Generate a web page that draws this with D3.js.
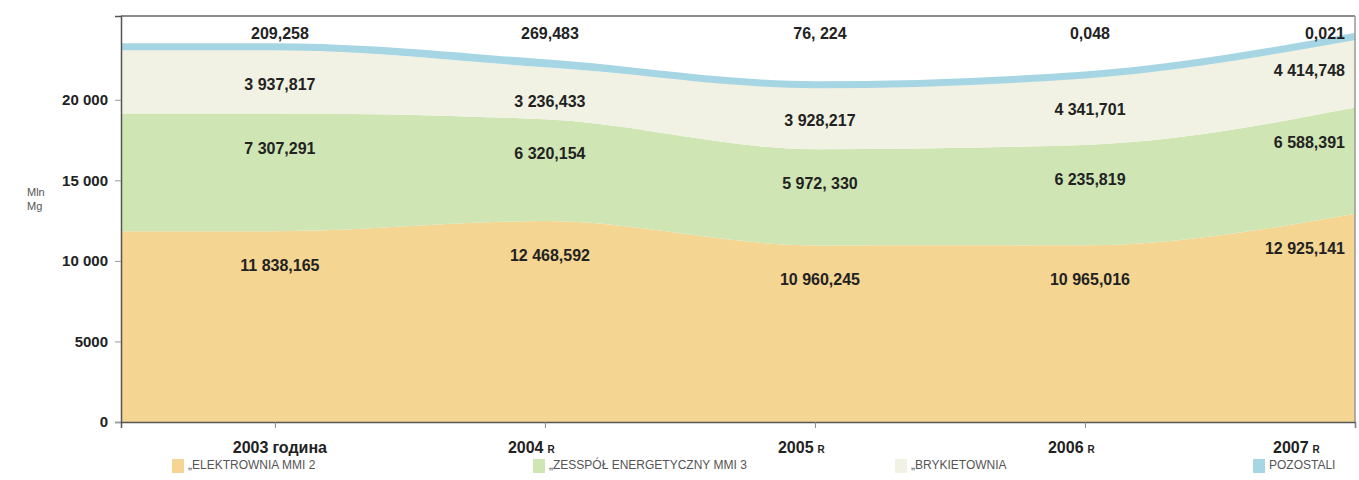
<!DOCTYPE html>
<html>
<head>
<meta charset="utf-8">
<script src="https://cdn.jsdelivr.net/npm/d3@7"></script>
<style>
  body { margin: 0; background: #fff; }
  text { font-family: "Liberation Sans", Arial, sans-serif; }
</style>
</head>
<body>
<div id="chart"></div>
<script>
// data (Mln Mg)
var years = ["2003", "2004", "2005", "2006", "2007"];
var yearSuffix = ["година", "R", "R", "R", "R"];
var elektrownia = [11838.165, 12468.592, 10960.245, 10965.016, 12925.141];
var zespol = [7307.291, 6320.154, 5972.330, 6235.819, 6588.391];
var brykietownia = [3937.817, 3236.433, 3928.217, 4341.701, 4414.748];
var pozostali = [209.258, 269.483, 76.224, 0.048, 0.021];
var labelsEl = ["11 838,165", "12 468,592", "10 960,245", "10 965,016", "12 925,141"];
var labelsZe = ["7 307,291", "6 320,154", "5 972, 330", "6 235,819", "6 588,391"];
var labelsBr = ["3 937,817", "3 236,433", "3 928,217", "4 341,701", "4 414,748"];
var labelsPo = ["209,258", "269,483", "76, 224", "0,048", "0,021"];
var seriesNames = ["„ELEKTROWNIA MMI 2", "„ZESSPÓŁ ENERGETYCZNY MMI 3", "„BRYKIETOWNIA", "POZOSTALI"];
var yTicks = [0, 5000, 10000, 15000, 20000];

var colors = ["#f5d592", "#cfe6b4", "#f1f2e3", "#a6d6e4"];

function drawChart() {
  var W = 1359, H = 480;
  var pLeft = 121, pRight = 1355, pTop = 16, pBottom = 422;

  var svg = d3.select("#chart").append("svg")
      .attr("width", W).attr("height", H);

  // x: category index, the plot starts a bit before the first year
  var x = d3.scaleLinear().domain([-0.57, years.length - 1]).range([pLeft, pRight]);
  var y = d3.scaleLinear().domain([0, 25200]).range([pBottom, pTop]);

  var rows = years.map(function(yr, i) {
    return {i: i, el: elektrownia[i], ze: zespol[i], br: brykietownia[i], po: pozostali[i]};
  });
  // flat lead-in to the left edge of the plot
  var drawRows = [Object.assign({}, rows[0], {i: x.domain()[0]})].concat(rows);

  var keys = ["el", "ze", "br", "po"];
  var stack = d3.stack().keys(keys);
  var layers = stack(drawRows);
  var labelLayers = stack(rows);

  var area = d3.area()
      .x(function(d) { return x(d.data.i); })
      .y0(function(d) { return y(d[0]); })
      .y1(function(d) { return y(d[1]); })
      .curve(d3.curveMonotoneX);

  svg.selectAll(".layer").data(layers).enter().append("path")
    .attr("class", "layer")
    .attr("d", area)
    .attr("fill", function(d, i) { return colors[i]; });

  // top edge of the "pozostali" band drawn as a thick line
  var topLine = d3.line()
      .x(function(d) { return x(d.data.i); })
      .y(function(d) { return y(d[1]); })
      .curve(d3.curveMonotoneX);
  svg.append("path")
    .datum(layers[3])
    .attr("d", topLine)
    .attr("fill", "none")
    .attr("stroke", colors[3])
    .attr("stroke-width", 7);

  // frame
  svg.append("line").attr("x1", pLeft).attr("x2", pRight).attr("y1", pTop).attr("y2", pTop)
    .attr("stroke", "#666").attr("stroke-width", 1.5);
  svg.append("line").attr("x1", pRight).attr("x2", pRight).attr("y1", pTop).attr("y2", pBottom)
    .attr("stroke", "#999").attr("stroke-width", 1.5);

  // y axis
  var yAxis = svg.append("g")
    .attr("transform", "translate(" + pLeft + ",0)")
    .call(d3.axisLeft(y).tickValues(yTicks).tickSize(6).tickPadding(7)
      .tickFormat(function(d) { return d >= 10000 ? d3.format(",")(d).replace(",", " ") : d; }));
  yAxis.select(".domain").attr("stroke", "#555").attr("stroke-width", 1.5);
  yAxis.selectAll(".tick line").attr("stroke", "#999");
  yAxis.selectAll("text").attr("font-size", 15).attr("font-weight", "bold")
    .attr("font-family", "'Liberation Sans Narrow', 'Liberation Sans', sans-serif")
    .attr("fill", "#222");

  svg.append("text").attr("x", 27).attr("y", 196).attr("font-size", 11).attr("fill", "#555").text("Mln");
  svg.append("text").attr("x", 27).attr("y", 210).attr("font-size", 11).attr("fill", "#555").text("Mg");

  // x axis
  var xAxis = svg.append("g")
    .attr("transform", "translate(0," + pBottom + ")")
    .call(d3.axisBottom(x).tickValues(d3.range(years.length)).tickSize(6).tickFormat(""));
  xAxis.select(".domain").attr("stroke", "#555").attr("stroke-width", 1.5);
  xAxis.selectAll(".tick line").attr("stroke", "#888");

  var xl = svg.selectAll(".xlab").data(years).enter().append("text")
    .attr("class", "xlab")
    .attr("y", pBottom + 31)
    .attr("font-family", "'Liberation Sans Narrow', 'Liberation Sans', sans-serif")
    .attr("font-weight", "bold")
    .attr("fill", "#222")
    .attr("font-size", 16)
    .attr("x", function(d, i) {
      if (i === 0) return x(i) + 5;
      if (i === years.length - 1) return x(i) - 82;
      return x(i) - 37;
    })
    .attr("text-anchor", function(d, i) { return i === 0 ? "middle" : "start"; });
  xl.append("tspan").text(function(d) { return d; });
  xl.append("tspan")
    .attr("font-size", function(d, i) { return i === 0 ? 16 : 10; })
    .attr("dx", 4)
    .text(function(d, i) { return yearSuffix[i]; });

  // value labels
  function labelX(i) { return i === years.length - 1 ? x(i) - 10 : x(i) + 5; }
  function labelAnchor(i) { return i === years.length - 1 ? "end" : "middle"; }
  var bandLabels = [labelsEl, labelsZe, labelsBr];
  bandLabels.forEach(function(lbls, k) {
    svg.selectAll(".lab" + k).data(labelLayers[k]).enter().append("text")
      .attr("class", "lab" + k)
      .attr("x", function(d, i) { return labelX(i); })
      .attr("y", function(d) { return y(d[1]) + 40; })
      .attr("text-anchor", function(d, i) { return labelAnchor(i); })
      .attr("font-size", 16).attr("font-weight", "bold").attr("fill", "#222")
      .text(function(d, i) { return lbls[i]; });
  });
  svg.selectAll(".labPo").data(labelsPo).enter().append("text")
    .attr("class", "labPo")
    .attr("x", function(d, i) { return labelX(i); })
    .attr("y", pTop + 23)
    .attr("text-anchor", function(d, i) { return labelAnchor(i); })
    .attr("font-size", 16).attr("font-weight", "bold").attr("fill", "#222")
    .text(function(d) { return d; });

  // legend
  var legendX = [172, 533, 895, 1253];
  var leg = svg.selectAll(".leg").data(seriesNames).enter().append("g")
    .attr("class", "leg")
    .attr("transform", function(d, i) { return "translate(" + legendX[i] + ",459)"; });
  leg.append("rect").attr("width", 12).attr("height", 14).attr("y", 0)
    .attr("fill", function(d, i) { return colors[i]; });
  leg.append("text").attr("x", 16).attr("y", 10).attr("font-size", 12).attr("fill", "#555")
    .text(function(d) { return d; });
}

drawChart();
</script>
</body>
</html>
